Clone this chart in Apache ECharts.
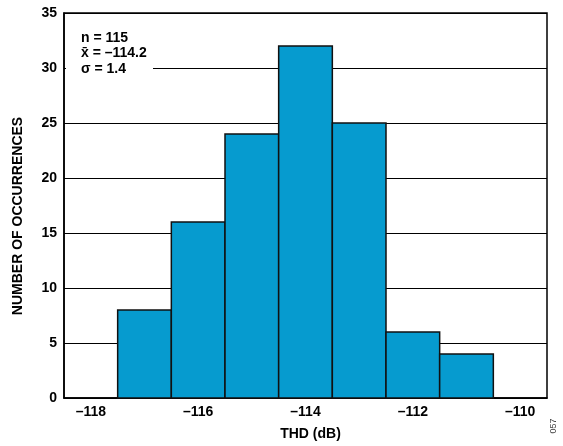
<!DOCTYPE html>
<html><head><meta charset="utf-8">
<script src="https://cdn.jsdelivr.net/npm/echarts@6/dist/echarts.min.js"></script>
<style>html,body{margin:0;padding:0;background:#fff}#c{width:563px;height:446px}</style>
</head><body><div id="c"></div>
<script>
const binCenters = [-117, -116, -115, -114, -113, -112, -111];
const counts = [8, 16, 24, 32, 25, 6, 4];
const binWidth = 1;
const xTickValues = [-118, -116, -114, -112, -110];
const yTickValues = [0, 5, 10, 15, 20, 25, 30, 35];
const statsLines = ['n = 115', 'x\u0304 = \u2013114.2', '\u03c3 = 1.4'];
const xTitle = 'THD (dB)';
const yTitle = 'NUMBER OF OCCURRENCES';
const figId = '057';

const FONT = '"Liberation Sans", Arial, Helvetica, sans-serif';
const chart = echarts.init(document.getElementById('c'), null, {renderer: 'canvas'});
const data = binCenters.map((c, i) => [c, counts[i]]);

chart.setOption({
  animation: false,
  backgroundColor: '#fff',
  grid: {left: 64, right: 16, top: 13, bottom: 48, show: true, borderColor: '#000', borderWidth: 1.5, backgroundColor: 'transparent'},
  xAxis: {
    type: 'value', min: -118.5, max: -109.5,
    name: xTitle, nameLocation: 'middle', nameGap: 29,
    nameTextStyle: {fontFamily: FONT, fontWeight: 'bold', fontSize: 14, color: '#000', padding: [0, 0, 0, 10]},
    axisLine: {show: true, onZero: false, lineStyle: {color: '#000', width: 1.5}},
    axisTick: {show: false},
    splitLine: {show: false},
    axisLabel: {
      customValues: xTickValues, margin: 7,
      fontFamily: FONT, fontWeight: 'bold', fontSize: 14, color: '#000',
      formatter: v => String(v).replace('-', '\u2013')
    }
  },
  yAxis: {
    type: 'value', min: 0, max: 35, interval: 5,
    axisLine: {show: true, lineStyle: {color: '#000', width: 1.5}},
    axisTick: {show: false},
    splitLine: {show: true, lineStyle: {color: '#000', width: 1}},
    axisLabel: {margin: 7, fontFamily: FONT, fontWeight: 'bold', fontSize: 14, color: '#000'}
  },
  series: [{
    type: 'custom',
    data: data,
    encode: {x: 0, y: 1},
    z: 5,
    renderItem: function (params, api) {
      const x = api.value(0), y = api.value(1);
      const p0 = api.coord([x - binWidth / 2, y]);
      const p1 = api.coord([x + binWidth / 2, 0]);
      return {
        type: 'rect',
        shape: {x: p0[0], y: p0[1], width: p1[0] - p0[0], height: p1[1] - p0[1]},
        style: {fill: '#069BCF', stroke: '#111', lineWidth: 1.5}
      };
    }
  }],
  graphic: [
    {type: 'rect', z: 10, left: 66, top: 27, shape: {width: 87, height: 48}, style: {fill: '#fff'}},
    {type: 'text', z: 11, left: 81, top: 30, style: {
      text: statsLines.join('\n'), fontFamily: FONT, fontWeight: 'bold', fontSize: 14, lineHeight: 15.5, fill: '#000'
    }},
    {type: 'text', z: 11, x: 18.5, y: 216, rotation: Math.PI / 2, style: {
      text: yTitle, fontFamily: FONT, fontWeight: 'bold', fontSize: 14, fill: '#000', align: 'center', verticalAlign: 'middle'
    }},
    {type: 'text', z: 11, x: 554, y: 426, rotation: Math.PI / 2, style: {
      text: figId, fontFamily: FONT, fontSize: 9, fill: '#444', align: 'center', verticalAlign: 'middle'
    }}
  ]
});
</script>
</body></html>
